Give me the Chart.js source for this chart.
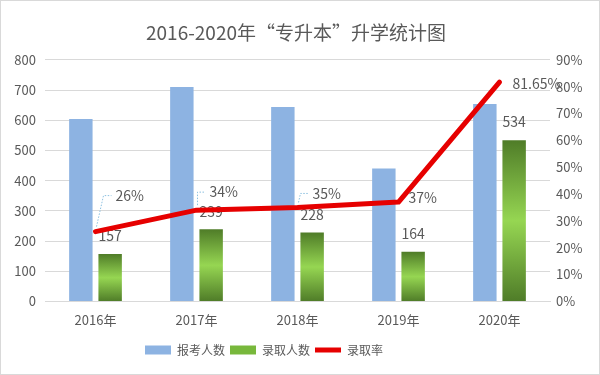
<!DOCTYPE html>
<html lang="zh">
<head>
  <meta charset="UTF-8" />
  <title>2016-2020年“专升本”升学统计图</title>
  <script src="https://cdn.jsdelivr.net/npm/chart.js@4.4.1/dist/chart.umd.min.js"></script>
  <style>
    *{margin:0;padding:0;box-sizing:border-box}
    body{background:#fff}
    .wrap{width:600px;height:375px;border:1px solid #d9d9d9;background:#fff;position:relative}
  </style>
</head>
<body>
  <div class="wrap"><canvas id="chart"></canvas></div>
  <script>
    // data
    const years = ['2016年', '2017年', '2018年', '2019年', '2020年'];
    const applicants = [604, 710, 644, 440, 654];   // 报考人数
    const admitted = [157, 239, 228, 164, 534];     // 录取人数
    const rates = [26, 34, 35, 37, 81.65];          // 录取率 (%)

    const FONT = "'Noto Sans CJK SC', 'Noto Sans', sans-serif";
    const TXT = '#595959';

    // label placement next to the rate points: [dx, dy, leader line]
    const rateLabelPos = [[20, -36, true], [13, -18, true], [15, -14, true], [10, -4, false], [13, 1, false]];

    function greenFill(ctx) {
      const chart = ctx.chart, y = chart.scales.y;
      if (ctx.type !== 'data' || !y) return '#78b83c';
      const top = y.getPixelForValue(ctx.raw), bottom = y.getPixelForValue(0);
      if (!isFinite(top) || !isFinite(bottom) || top === bottom) return '#78b83c';
      const g = chart.ctx.createLinearGradient(0, top, 0, bottom);
      g.addColorStop(0, '#4f7c28');
      g.addColorStop(0.5, '#96d652');
      g.addColorStop(1, '#4f7c28');
      return g;
    }

    const labelPlugin = {
      id: 'valueLabels',
      afterLayout(chart) {
        // the reference keeps legend and title a bit left of centre
        chart.legend.right -= 72;
        chart.titleBlock.right -= 8;
      },
      afterDatasetDraw(chart, args) {
        if (args.index !== 1) return;
        const c = chart.ctx;
        c.save();
        c.font = '14px ' + FONT;
        c.fillStyle = TXT;
        c.textAlign = 'center';
        c.textBaseline = 'middle';
        args.meta.data.forEach((bar, i) => c.fillText(String(admitted[i]), bar.x, bar.y - 18));
        c.restore();
      },
      afterDatasetsDraw(chart) {
        const c = chart.ctx;
        const meta = chart.getDatasetMeta(2);
        c.save();
        c.font = '14px ' + FONT;
        c.fillStyle = TXT;
        c.textAlign = 'left';
        c.textBaseline = 'middle';
        meta.data.forEach((pt, i) => {
          const p = rateLabelPos[i];
          const tx = pt.x + p[0], ty = pt.y + p[1];
          if (p[2]) {
            c.save();
            c.strokeStyle = '#8cc0e0';
            c.lineWidth = 1;
            c.setLineDash([1.5, 1.5]);
            c.beginPath();
            c.moveTo(pt.x + 1, pt.y - 5);
            c.lineTo(tx - 12, ty);
            c.lineTo(tx - 4, ty);
            c.stroke();
            c.restore();
          }
          c.fillText(rates[i] + '%', tx, ty);
        });
        c.restore();
      }
    };

    new Chart(document.getElementById('chart'), {
      data: {
        labels: years,
        datasets: [
          {type: 'bar', label: '报考人数', data: applicants, backgroundColor: '#8db3e2', yAxisID: 'y', order: 1,
           categoryPercentage: 0.58, barPercentage: 0.8, pointStyle: 'rect'},
          {type: 'bar', label: '录取人数', data: admitted, backgroundColor: greenFill, yAxisID: 'y', order: 1,
           categoryPercentage: 0.58, barPercentage: 0.8, pointStyle: 'rect'},
          {type: 'line', label: '录取率', data: rates, borderColor: '#e60000', backgroundColor: '#e60000', borderWidth: 5,
           borderCapStyle: 'round', borderJoinStyle: 'round', pointRadius: 0, pointStyle: 'line', yAxisID: 'y1', order: 0}
        ]
      },
      options: {
        responsive: true,
        maintainAspectRatio: false,
        animation: false,
        layout: {padding: {left: 0, right: 0, top: 0, bottom: 8}},
        plugins: {
          title: {display: true, text: '2016-2020年“专升本”升学统计图', color: TXT,
                  font: {family: FONT, size: 19, weight: 'normal'}, padding: {top: 20, bottom: 16}},
          legend: {
            position: 'bottom',
            labels: {
              color: TXT, font: {family: FONT, size: 12}, usePointStyle: true, pointStyleWidth: 26,
              boxHeight: 9, boxWidth: 26, padding: 5,
              sort: (a, b) => a.datasetIndex - b.datasetIndex,
              generateLabels(chart) {
                const items = Chart.defaults.plugins.legend.labels.generateLabels(chart);
                items.forEach(it => { if (it.datasetIndex === 1) it.fillStyle = '#78b83c'; it.lineWidth = it.datasetIndex === 2 ? 5 : 0; });
                return items;
              }
            }
          },
          tooltip: {enabled: false}
        },
        scales: {
          x: {
            grid: {display: false},
            border: {display: true, color: '#d9d9d9'},
            ticks: {color: TXT, font: {family: FONT, size: 13}, padding: 3},
            afterFit(s) { s.height += 8; }
          },
          y: {
            position: 'left', min: 0, max: 800,
            ticks: {stepSize: 100, color: TXT, font: {family: FONT, size: 13}, padding: 9},
            grid: {color: '#d9d9d9', drawTicks: false},
            border: {display: false},
            afterFit(s) { s.width = 44; }
          },
          y1: {
            position: 'right', min: 0, max: 90,
            ticks: {stepSize: 10, color: TXT, font: {family: FONT, size: 13}, padding: 6, callback: v => v + '%'},
            grid: {display: false, drawTicks: false},
            border: {display: false},
            afterFit(s) { s.width = 49; }
          }
        }
      },
      plugins: [labelPlugin]
    });
  </script>
</body>
</html>
